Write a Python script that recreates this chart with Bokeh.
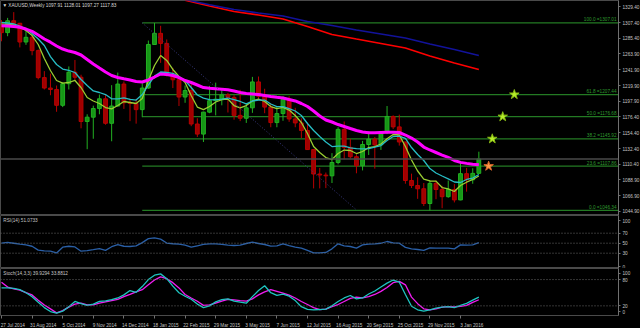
from bokeh.plotting import figure
from bokeh.models import (ColumnDataSource, Range1d, LinearAxis, FixedTicker,
                          PrintfTickFormatter, Label, Span)
from bokeh.layouts import column
from bokeh.embed import file_html
from bokeh.resources import INLINE
from bokeh.core.properties import value

FONT = "Liberation Sans"
FS = "4.7px"

# ---------------- data (weekly XAUUSD, bar index 0 = 27 Jul 2014) ----------------
bars = list(range(79))
opens = [1303.5, 1293.5, 1310.0, 1306.5, 1280.5, 1287.0, 1268.5, 1231.0, 1216.5, 1214.5,
         1192.5, 1222.5, 1238.5, 1231.5, 1170.0, 1176.0, 1188.0, 1201.5, 1167.5, 1191.5,
         1222.0, 1196.0, 1195.0, 1186.5, 1216.5, 1277.0, 1292.5, 1278.5, 1234.0, 1228.0,
         1204.0, 1213.0, 1166.5, 1152.5, 1183.0, 1199.0, 1201.0, 1207.0, 1203.5, 1178.5,
         1174.5, 1189.0, 1225.0, 1205.0, 1190.0, 1168.5, 1181.0, 1201.0, 1173.5, 1168.0,
         1157.5, 1131.0, 1097.0, 1095.5, 1094.5, 1113.0, 1159.0, 1134.0, 1121.0, 1108.5,
         1138.0, 1145.5, 1137.5, 1156.0, 1177.0, 1162.5, 1141.5, 1088.0, 1081.0, 1076.5,
         1056.0, 1084.0, 1075.5, 1065.5, 1075.5, 1061.0, 1097.5, 1089.0, 1097.91]
highs = [1311.0, 1314.0, 1322.0, 1307.0, 1296.5, 1291.0, 1270.0, 1240.0, 1236.5, 1220.0,
         1224.5, 1246.5, 1255.5, 1235.0, 1180.0, 1192.0, 1207.5, 1208.0, 1220.5, 1238.0,
         1225.5, 1202.0, 1201.5, 1223.0, 1282.5, 1307.0, 1303.0, 1284.0, 1244.5, 1229.0,
         1220.0, 1223.5, 1174.5, 1183.5, 1219.5, 1224.0, 1215.0, 1209.5, 1206.5, 1214.0,
         1194.5, 1232.0, 1232.5, 1215.5, 1195.0, 1191.5, 1205.0, 1205.0, 1189.0, 1174.5,
         1168.5, 1131.5, 1105.5, 1099.0, 1126.0, 1162.0, 1170.0, 1146.0, 1124.5, 1143.0,
         1156.5, 1148.5, 1156.5, 1191.5, 1178.5, 1179.5, 1142.0, 1097.5, 1092.5, 1084.5,
         1088.0, 1088.0, 1080.5, 1088.0, 1083.0, 1112.5, 1105.5, 1105.0, 1128.01]
lows = [1281.5, 1288.5, 1304.5, 1273.0, 1276.5, 1262.0, 1228.5, 1214.5, 1206.5, 1183.5,
        1190.0, 1214.5, 1226.5, 1160.5, 1131.5, 1146.0, 1180.0, 1165.5, 1142.5, 1191.0,
        1187.5, 1170.5, 1167.0, 1176.0, 1215.5, 1276.5, 1251.5, 1232.5, 1216.5, 1191.5,
        1196.0, 1163.5, 1148.5, 1141.5, 1181.5, 1178.5, 1192.5, 1182.5, 1172.5, 1170.5,
        1168.0, 1182.0, 1201.0, 1181.5, 1162.0, 1162.0, 1171.0, 1169.5, 1162.0, 1147.0,
        1130.5, 1077.0, 1077.0, 1077.5, 1084.5, 1110.5, 1117.5, 1118.5, 1098.0, 1102.0,
        1123.5, 1104.5, 1130.5, 1152.5, 1159.5, 1136.5, 1083.5, 1077.5, 1062.5, 1052.5,
        1046.3, 1062.0, 1049.5, 1064.0, 1057.5, 1060.5, 1072.5, 1083.5, 1097.27]
closes = [1293.5, 1310.0, 1306.5, 1280.5, 1287.0, 1268.5, 1231.0, 1216.5, 1214.5, 1192.5,
          1222.5, 1238.5, 1231.5, 1170.0, 1176.0, 1188.0, 1201.5, 1167.5, 1191.5, 1222.0,
          1196.0, 1195.0, 1186.5, 1216.5, 1277.0, 1292.5, 1278.5, 1234.0, 1228.0, 1204.0,
          1213.0, 1166.5, 1152.5, 1183.0, 1199.0, 1201.0, 1207.0, 1203.5, 1178.5, 1174.5,
          1189.0, 1225.0, 1205.0, 1190.0, 1168.5, 1181.0, 1201.0, 1173.5, 1168.0, 1157.5,
          1131.0, 1097.0, 1095.5, 1094.5, 1113.0, 1159.0, 1134.0, 1121.0, 1108.5, 1138.0,
          1145.5, 1137.5, 1156.0, 1177.0, 1162.5, 1141.5, 1088.0, 1081.0, 1076.5, 1056.0,
          1084.0, 1075.5, 1065.5, 1075.5, 1061.0, 1097.5, 1089.0, 1097.9, 1117.83]

fast_ma = [1305.6, 1305.0, 1304.4, 1300.6, 1296.5, 1289.5, 1277.0, 1257.5, 1240.9, 1227.0,
           1223.2, 1224.2, 1227.0, 1217.2, 1203.3, 1198.5, 1195.0, 1189.4, 1187.6, 1192.2,
           1197.8, 1196.4, 1195.0, 1202.0, 1227.0, 1247.8, 1261.7, 1254.8, 1242.3, 1232.5,
           1224.2, 1206.1, 1190.1, 1186.6, 1190.8, 1197.1, 1200.5, 1201.2, 1192.2, 1189.0,
           1192.2, 1198.5, 1201.2, 1197.8, 1190.8, 1188.0, 1189.7, 1185.9, 1178.3, 1168.6,
           1153.3, 1135.2, 1126.9, 1119.9, 1117.1, 1125.5, 1130.3, 1129.7, 1125.5, 1128.3,
           1133.8, 1135.2, 1138.7, 1145.9, 1151.9, 1151.2, 1135.2, 1116.4, 1101.2, 1090.0,
           1087.3, 1087.1, 1078.2, 1076.4, 1072.7, 1081.0, 1085.6, 1089.4, 1094.2]
mid_ma = [1307.8, 1306.9, 1305.8, 1302.7, 1298.5, 1292.3, 1284.6, 1275.6, 1260.2, 1249.2,
          1242.9, 1240.9, 1238.1, 1228.4, 1220.0, 1212.4, 1210.3, 1207.5, 1201.5, 1201.5,
          1202.9, 1200.8, 1199.8, 1207.5, 1220.7, 1233.2, 1238.8, 1238.1, 1237.0, 1232.5,
          1227.0, 1217.2, 1206.8, 1202.4, 1200.5, 1200.1, 1201.2, 1202.6, 1200.5, 1197.8,
          1194.6, 1198.5, 1199.8, 1199.8, 1194.3, 1190.8, 1190.8, 1188.0, 1184.6, 1178.3,
          1167.2, 1157.5, 1149.1, 1141.5, 1135.2, 1135.9, 1135.9, 1133.4, 1132.4, 1132.0,
          1132.4, 1134.5, 1136.6, 1143.6, 1149.1, 1149.8, 1146.4, 1133.8, 1124.1, 1115.8,
          1104.6, 1098.4, 1094.2, 1090.3, 1085.9, 1085.2, 1089.4, 1091.4, 1096.3]
slow_ma = [1303.2, 1302.6, 1301.9, 1300.9, 1298.5, 1295.3, 1290.2, 1284.6, 1280.2, 1274.9,
           1270.7, 1267.9, 1265.9, 1262.4, 1256.1, 1249.9, 1244.3, 1238.8, 1233.9, 1231.1,
           1229.3, 1227.7, 1225.6, 1224.9, 1227.7, 1231.8, 1236.0, 1235.3, 1233.9, 1231.1,
           1227.0, 1224.2, 1220.7, 1217.2, 1216.1, 1215.4, 1214.7, 1214.0, 1212.4, 1210.3,
           1208.9, 1208.2, 1207.5, 1206.1, 1204.7, 1203.6, 1202.6, 1200.5, 1198.5, 1195.0,
           1190.8, 1184.6, 1177.6, 1172.1, 1169.3, 1165.8, 1163.0, 1160.2, 1157.5, 1155.4,
           1154.4, 1154.4, 1154.7, 1155.0, 1155.0, 1154.7, 1151.2, 1147.0, 1141.5, 1134.5,
           1130.4, 1126.9, 1123.4, 1120.0, 1115.8, 1113.2, 1111.8, 1110.7, 1109.9]

long_bars = [30, 34, 38, 42, 46, 50, 54, 58, 62, 66, 70, 74, 78]
long_blue = [1339.5, 1332.2, 1325.6, 1320.8, 1316.6, 1309.0, 1303.4, 1297.2, 1291.6, 1286.0,
             1277.7, 1270.1, 1261.7]
long_red = [1338.5, 1330.5, 1322.9, 1318.0, 1312.4, 1302.0, 1290.9, 1284.6, 1278.4, 1272.1,
            1261.0, 1251.3, 1242.2]

rsi = [50.0, 51.7, 49.9, 48.0, 46.6, 43.9, 36.1, 34.7, 34.2, 30.5,
       42.0, 43.9, 42.5, 34.0, 35.1, 37.0, 39.3, 35.6, 43.0, 47.1,
       43.9, 43.4, 44.8, 51.2, 59.1, 60.7, 58.1, 50.3, 48.9, 48.0,
       46.2, 42.0, 44.8, 47.6, 48.8, 48.5, 47.6, 46.2, 45.4, 46.1,
       49.4, 52.1, 49.4, 47.4, 44.3, 44.8, 48.8, 45.3, 42.0, 40.2,
       35.6, 30.5, 30.7, 31.5, 38.7, 48.8, 44.8, 43.4, 40.2, 46.6,
       48.3, 48.8, 49.9, 53.4, 50.8, 50.0, 41.6, 38.8, 37.4, 35.6,
       40.8, 40.2, 40.1, 40.2, 38.7, 46.7, 46.1, 46.7, 51.07]
stoch_main = [61, 61, 60, 57, 50, 41, 28, 16, 7, 3.5,
              8, 18, 30, 25, 21, 24, 30, 31.5, 34, 38,
              45, 55, 51, 64, 80, 90, 93, 82, 65, 50,
              42, 35, 24, 16, 20, 29, 34, 36, 31, 28.5,
              26, 41, 55, 66, 50, 44, 47, 42, 32, 18,
              12, 11, 11.6, 12.5, 20, 30, 38, 43.6, 36, 38,
              47, 54, 63, 71.8, 79, 74, 46, 19, 11, 7.9,
              10.9, 15, 17, 18, 16, 21, 25.5, 33, 39.93]
stoch_signal = [74, 63, 59, 56, 50, 45, 33, 22, 13, 4,
                9, 17, 24, 26, 22, 22, 26, 29, 32, 35,
                41, 46, 52, 57, 68, 79, 86, 82, 73, 61,
                46, 38, 30.6, 21, 22, 26, 31, 35, 33.5, 32,
                30.6, 36, 45, 52, 57, 53, 49, 44.5, 38, 30,
                23, 16, 11.6, 12.5, 18, 23, 30, 37, 40, 38.4,
                41, 46, 53, 62, 73, 76, 68, 40, 25, 13.2,
                10.9, 13, 17, 18, 17.5, 19, 21, 28, 33.88]

fib_pct = ["100.0", "61.8", "50.0", "38.2", "23.6", "0.0"]
fib_price = [1307.01, 1207.44, 1176.68, 1145.92, 1107.86, 1046.34]
fib_start_bar = 23.0
trend_end_bar = 58.1

star_bar = [83.8, 81.9, 80.2, 79.6]
star_price = [1207.44, 1176.68, 1145.92, 1107.86]
star_fill = ["#b6ee2a", "#b6ee2a", "#b6ee2a", "#ff9a48"]
star_line = ["#86b814", "#86b814", "#86b814", "#d8682a"]

last_price = 1117.83
price_ticks = [1044.9, 1066.9, 1088.9, 1110.4, 1132.4, 1154.4, 1176.4, 1197.9,
               1219.9, 1241.9, 1263.9, 1285.4, 1307.4, 1329.4]
rsi_levels = [30, 50, 70]
rsi_ticks = [3, 30, 50, 70, 95]
rsi_tick_labels = {3: "0", 95: "100"}
stoch_levels = [20, 80]
stoch_ticks = [6, 20, 80, 95]
stoch_tick_labels = {6: "0", 95: "100"}
date_ticks = [0, 5, 10, 15, 20, 25, 30, 35, 40, 45, 50, 55, 60, 65, 70, 75]
date_labels = ["27 Jul 2014", "31 Aug 2014", "5 Oct 2014", "9 Nov 2014", "14 Dec 2014",
               "18 Jan 2015", "22 Feb 2015", "29 Mar 2015", "3 May 2015", "7 Jun 2015",
               "12 Jul 2015", "16 Aug 2015", "20 Sep 2015", "25 Oct 2015", "29 Nov 2015",
               "3 Jan 2016"]

title_text = "\u25bc XAUUSD,Weekly  1097.91 1128.01 1097.27 1117.83"
rsi_text = "RSI(14) 51.0733"
stoch_text = "Stoch(14,3,3) 39.9294 33.8812"

# ---------------- styling helpers ----------------
BG = "#000000"
OUTLINE = "#4a4a4a"
AXC = "#707070"
TXT = "#c4c4c4"
FIBC = "#237a23"

X0, X1 = -0.163, 100.82
xr = Range1d(X0, X1)


def make_fig(fh, y0, y1):
    f = figure(frame_width=618, frame_height=fh, x_range=xr, y_range=Range1d(y0, y1),
               output_backend="svg", toolbar_location=None, title=None,
               x_axis_location=None, y_axis_location=None, min_border=0,
               background_fill_color=BG, border_fill_color=BG,
               outline_line_color=OUTLINE, outline_line_width=1)
    f.xgrid.visible = False
    f.ygrid.visible = False
    return f


def style_axis(ax):
    ax.axis_line_color = AXC
    ax.major_tick_line_color = AXC
    ax.minor_tick_line_color = None
    ax.major_tick_out = 2
    ax.major_tick_in = 0
    ax.major_label_standoff = 2
    ax.major_label_text_color = TXT
    ax.major_label_text_font = FONT
    ax.major_label_text_font_size = FS


# ---------------- main price panel ----------------
p1 = make_fig(215, 1039.34, 1338.16)

# fibonacci levels
fib_src = ColumnDataSource(dict(x0=[fib_start_bar] * len(fib_price), x1=[X1 + 2] * len(fib_price),
                                y=fib_price,
                                lab=[f"{a} ={b:.2f}" for a, b in zip(fib_pct, fib_price)],
                                xl=[100.5] * len(fib_price)))
p1.segment(x0="x0", y0="y", x1="x1", y1="y", source=fib_src, line_color=FIBC, line_width=1.2)

p1.add_layout(Span(location=last_price, dimension="width", line_color="#4a4a4a", line_width=1.5))

# candles
up = [c >= o for o, c in zip(opens, closes)]
csrc = ColumnDataSource(dict(
    x=bars, h=highs, l=lows,
    top=[max(o, c) for o, c in zip(opens, closes)],
    bottom=[min(o, c) for o, c in zip(opens, closes)],
    fill=["#169616" if u else "#a00000" for u in up],
    line=["#22b022" if u else "#b80000" for u in up]))
p1.segment(x0="x", y0="l", x1="x", y1="h", source=csrc, line_color="line", line_width=1)
p1.vbar(x="x", width=0.62, top="top", bottom="bottom", source=csrc,
        fill_color="fill", line_color="line", line_width=1)

# long moving averages
p1.line(long_bars, long_red, line_color="#ff0000", line_width=1.6)
p1.line(long_bars, long_blue, line_color="#12129a", line_width=1.6)

# short moving averages
p1.line(bars, fast_ma, line_color="#9acd32", line_width=1.3)
p1.line(bars, mid_ma, line_color="#27bcc4", line_width=1.3)
p1.line(bars, slow_ma, line_color="#ff00ff", line_width=3)

# fib trend line
p1.line([fib_start_bar, trend_end_bar], [fib_price[0], fib_price[-1]],
        line_color="#3a3a80", line_width=1, line_dash="1 2")

# stars
p1.scatter(star_bar, star_price, marker="star", size=10, fill_color=star_fill,
           line_color=star_line, line_width=1)

# fib labels
p1.text(x="xl", y="y", text="lab", source=fib_src, text_align="right", text_baseline="bottom",
        text_color="#2e9a2e", text_font=value(FONT), text_font_size=value(FS), y_offset=-0.5)

ax1 = LinearAxis(ticker=FixedTicker(ticks=price_ticks),
                 formatter=PrintfTickFormatter(format="%.2f"))
style_axis(ax1)
p1.add_layout(ax1, "right")

p1.add_layout(Label(x=0.15, y=1331.2, text=title_text, text_color="#d8d8d8",
                    text_font=FONT, text_font_size=FS, text_baseline="middle"))
p1.add_layout(Label(x=X1, y=last_price, text=f"{last_price:.2f}", text_color="#ffffff",
                    text_font=FONT, text_font_size=FS, text_baseline="middle",
                    text_align="left", background_fill_color="#7c7c7c", padding=1))

# ---------------- RSI panel ----------------
p2 = make_fig(53, -0.6, 105.4)
for lv in rsi_levels:
    p2.add_layout(Span(location=lv, dimension="width", line_color="#6a6a6a",
                       line_width=1, line_dash="1 2"))
p2.line(bars, rsi, line_color="#2a5fa6", line_width=1.3)
ax2 = LinearAxis(ticker=FixedTicker(ticks=rsi_ticks), major_label_overrides=rsi_tick_labels)
style_axis(ax2)
p2.add_layout(ax2, "right")
p2.add_layout(Label(x=0.3, y=96.4, text=rsi_text, text_color=TXT, text_font=FONT,
                    text_font_size=FS, text_baseline="middle"))

# ---------------- Stochastic panel ----------------
p3 = make_fig(47, -2.05, 105.3)
for lv in stoch_levels:
    p3.add_layout(Span(location=lv, dimension="width", line_color="#6a6a6a",
                       line_width=1, line_dash="1 2"))
p3.line(bars, stoch_signal, line_color="#f01cf0", line_width=1.3)
p3.line(bars, stoch_main, line_color="#1fc4c0", line_width=1.3)
ax3 = LinearAxis(ticker=FixedTicker(ticks=stoch_ticks), major_label_overrides=stoch_tick_labels)
style_axis(ax3)
p3.add_layout(ax3, "right")
p3.add_layout(Label(x=0.3, y=95, text=stoch_text, text_color=TXT, text_font=FONT,
                    text_font_size=FS, text_baseline="middle"))

# date axis: labels start at their bar (shifted range), tick marks at the bar itself
shift = 1.85
p3.extra_x_ranges = {"dates": Range1d(X0 - shift, X1 - shift)}
xa = LinearAxis(x_range_name="dates",
                ticker=FixedTicker(ticks=date_ticks, minor_ticks=[t - shift for t in date_ticks]),
                major_label_overrides={t: s for t, s in zip(date_ticks, date_labels)})
xa.axis_line_color = None
xa.major_tick_line_color = None
xa.major_tick_out = 0
xa.major_tick_in = 0
xa.minor_tick_line_color = AXC
xa.minor_tick_out = 3
xa.minor_tick_in = 0
xa.major_label_standoff = 4
xa.major_label_text_color = TXT
xa.major_label_text_font = FONT
xa.major_label_text_font_size = FS
p3.add_layout(xa, "below")

layout = column(p1, p2, p3, spacing=0, background=BG)
open("out.html", "w").write(file_html(layout, INLINE))
